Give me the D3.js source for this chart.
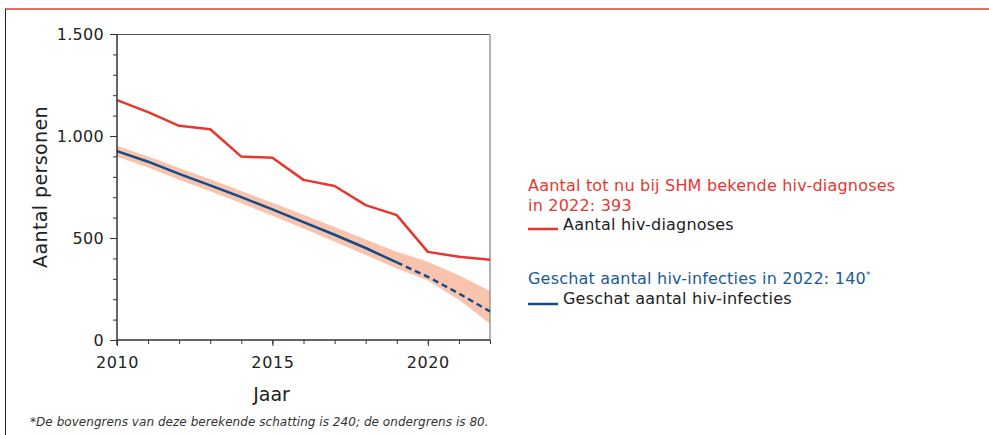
<!DOCTYPE html>
<html>
<head>
<meta charset="utf-8">
<script src="https://cdn.jsdelivr.net/npm/d3@7"></script>
<style>
  body { margin: 0; background: #fff; }
  svg text { font-family: "DejaVu Sans", Verdana, sans-serif; }
</style>
</head>
<body>
<div id="chart"></div>
<script>
/* DATA */
const years = [2010, 2011, 2012, 2013, 2014, 2015, 2016, 2017, 2018, 2019, 2020, 2021, 2022];
const diagnoses = [1176, 1117, 1050, 1033, 899, 893, 785, 755, 661, 612, 432, 408, 393];
const infections = [926, 874, 814, 758, 700, 640, 578, 516, 451, 380, 310, 228, 140];
const upperBound = [952, 900, 843, 788, 731, 673, 614, 554, 493, 433, 384, 318, 240];
const lowerBound = [898, 846, 786, 729, 670, 609, 546, 482, 417, 350, 292, 197, 80];
const yTicks = [0, 500, 1000, 1500];
const lastObserved = 2019;

/* CONSTANTS */
const width = 989, height = 435;
const margin = { top: 34, bottom: 95, left: 117, right: 499 };

const red = "#e8362f", blue = "#0f4c8a", band = "#f9c3ad", ink = "#333";

const svg = d3.select("#chart").append("svg")
  .attr("width", width)
  .attr("height", height);

// page frame: red rule on top, black rule on the left
svg.append("line").attr("x1", 5).attr("x2", width).attr("y1", 9).attr("y2", 9)
  .attr("stroke", "#de3b33").attr("stroke-width", 1.5);
svg.append("line").attr("x1", 5.5).attr("x2", 5.5).attr("y1", 9).attr("y2", height)
  .attr("stroke", "#222").attr("stroke-width", 1);

// scales
const xScale = d3.scaleLinear()
  .domain([2010, 2022])
  .range([margin.left, width - margin.right]);
const yScale = d3.scaleLinear()
  .domain([0, 1500])
  .range([height - margin.bottom, margin.top]);

const rows = years.map((y, i) => ({
  year: y, diag: diagnoses[i], inf: infections[i], hi: upperBound[i], lo: lowerBound[i]
}));

// uncertainty band
svg.append("path")
  .datum(rows)
  .attr("fill", band)
  .attr("d", d3.area()
    .x(d => xScale(d.year))
    .y0(d => yScale(d.lo))
    .y1(d => yScale(d.hi)));

// frame top + right
const x0 = xScale(2010), x1 = xScale(2022), yTop = yScale(1500), yBot = yScale(0);
svg.append("line").attr("x1", x0).attr("x2", x1).attr("y1", yTop + 0.5).attr("y2", yTop + 0.5)
  .attr("stroke", "#555").attr("stroke-width", 1);
svg.append("line").attr("x1", x1).attr("x2", x1).attr("y1", yTop).attr("y2", yBot)
  .attr("stroke", "#999").attr("stroke-width", 1.5);

const line = d3.line().x(d => xScale(d.year));

// diagnoses
svg.append("path")
  .datum(rows)
  .attr("fill", "none")
  .attr("stroke", red)
  .attr("stroke-width", 2.5)
  .attr("stroke-linejoin", "round")
  .attr("d", line.y(d => yScale(d.diag)));

// estimated infections: solid until 2019, dashed after
svg.append("path")
  .datum(rows.filter(d => d.year <= lastObserved))
  .attr("fill", "none")
  .attr("stroke", blue)
  .attr("stroke-width", 2.5)
  .attr("d", line.y(d => yScale(d.inf)));
svg.append("path")
  .datum(rows.filter(d => d.year >= lastObserved))
  .attr("fill", "none")
  .attr("stroke", blue)
  .attr("stroke-width", 2.5)
  .attr("stroke-dasharray", "6,4")
  .attr("d", line.y(d => yScale(d.inf)));

// y axis: major + minor ticks
svg.append("g")
  .attr("transform", `translate(${x0},0)`)
  .call(d3.axisLeft(yScale).tickValues(d3.range(0, 1501, 100)).tickSize(4).tickFormat(""))
  .call(g => g.select(".domain").remove())
  .call(g => g.selectAll("line").attr("stroke", ink));
const yAxis = svg.append("g")
  .attr("transform", `translate(${x0},0)`)
  .call(d3.axisLeft(yScale).tickValues(yTicks).tickSize(7).tickPadding(6)
    .tickFormat(d => d3.format(",")(d).replace(",", ".")));
yAxis.select(".domain").attr("stroke", ink).attr("stroke-width", 1.5)
  .attr("d", `M0,${yBot + 5}V${yTop}`);
yAxis.selectAll("line").attr("stroke", ink);
yAxis.selectAll("text").attr("font-size", 16).attr("letter-spacing", 0.3).attr("fill", "#222")
  .attr("font-family", "DejaVu Sans, Verdana, sans-serif");

// x axis
svg.append("g")
  .attr("transform", `translate(0,${yBot})`)
  .call(d3.axisBottom(xScale).tickValues(years).tickSize(4).tickFormat(""))
  .call(g => g.select(".domain").remove())
  .call(g => g.selectAll("line").attr("stroke", ink));
const xAxis = svg.append("g")
  .attr("transform", `translate(0,${yBot})`)
  .call(d3.axisBottom(xScale).tickValues([2010, 2015, 2020]).tickSize(6).tickPadding(11)
    .tickFormat(d3.format("d")));
xAxis.select(".domain").attr("stroke", ink).attr("stroke-width", 1.5)
  .attr("d", `M${x0},0H${x1}`);
xAxis.selectAll("line").attr("stroke", ink);
xAxis.selectAll("text").attr("font-size", 16).attr("letter-spacing", 0.6).attr("fill", "#222")
  .attr("font-family", "DejaVu Sans, Verdana, sans-serif");

// axis titles
svg.append("text")
  .attr("x", (x0 + x1) / 2 - 32)
  .attr("y", 401)
  .attr("text-anchor", "middle")
  .attr("font-size", 19)
  .attr("fill", "#222")
  .text("Jaar");
svg.append("text")
  .attr("transform", `translate(47,${(yTop + yBot) / 2}) rotate(-90)`)
  .attr("text-anchor", "middle")
  .attr("font-size", 19)
  .attr("letter-spacing", 0.4)
  .attr("fill", "#222")
  .text("Aantal personen");

// legend
const lx = 528;
const legendText = (x, y, color, txt) => svg.append("text")
  .attr("x", x).attr("y", y)
  .attr("font-size", 16).attr("letter-spacing", 0.2)
  .attr("fill", color).text(txt);

legendText(lx, 191, red, "Aantal tot nu bij SHM bekende hiv-diagnoses");
legendText(lx, 211, red, "in 2022: 393");
svg.append("line").attr("x1", lx).attr("x2", lx + 30).attr("y1", 229).attr("y2", 229)
  .attr("stroke", red).attr("stroke-width", 2.5);
legendText(lx + 35, 230, "#222", "Aantal hiv-diagnoses");

const bt = legendText(lx, 284, "#1a5a9a", "Geschat aantal hiv-infecties in 2022: 140");
bt.append("tspan").attr("font-size", 9).attr("dy", -6).text("*");
svg.append("line").attr("x1", lx).attr("x2", lx + 30).attr("y1", 304).attr("y2", 304)
  .attr("stroke", blue).attr("stroke-width", 2.5);
legendText(lx + 35, 304, "#222", "Geschat aantal hiv-infecties");

// footnote
svg.append("text")
  .attr("x", 30).attr("y", 426)
  .attr("font-size", 12)
  .attr("letter-spacing", 0.05)
  .attr("font-style", "italic")
  .attr("fill", "#333")
  .text("*De bovengrens van deze berekende schatting is 240; de ondergrens is 80.");
</script>
</body>
</html>
